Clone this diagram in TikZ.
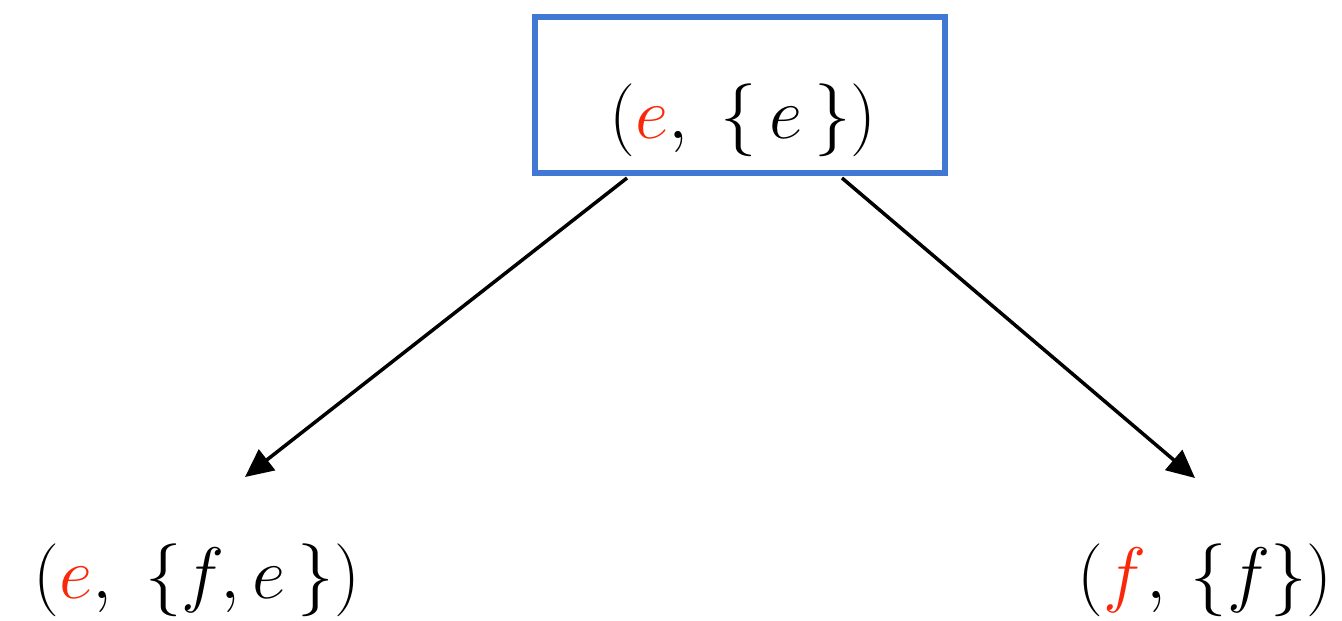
\documentclass[tikz,border=0pt]{standalone}
\usepackage{xcolor}
\usetikzlibrary{arrows.meta}
\definecolor{boxblue}{RGB}{65,120,212}
\definecolor{hired}{RGB}{250,40,10}
\begin{document}
\begin{tikzpicture}[x=0.01cm,y=-0.01cm,
  lbl/.style={font=\fontsize{21}{26}\selectfont, inner sep=0pt},
  conn/.style={line width=0.035cm, -{Triangle[length=0.28cm,width=0.26cm]}}]
\useasboundingbox (0,0) rectangle (1342,620);
\node[draw=boxblue, line width=0.06cm, minimum width=4.1cm, minimum height=1.56cm, inner sep=0pt] (topbox) at (740,95) {};
\node[lbl] (toptext) at (743,120) {$({\color{hired}e},\;\{\,e\,\})$};
\node[lbl] (lefttext) at (197,580) {$({\color{hired}e},\;\{f,e\,\})$};
\node[lbl] (righttext) at (1205,580) {$({\color{hired}f},\,\{f\})$};
\coordinate (ls) at (627,178);
\coordinate (le) at (245,477);
\coordinate (rs) at (842,178);
\coordinate (re) at (1195,478);
\draw[conn] (ls) -- (le);
\draw[conn] (rs) -- (re);
\end{tikzpicture}
\end{document}
